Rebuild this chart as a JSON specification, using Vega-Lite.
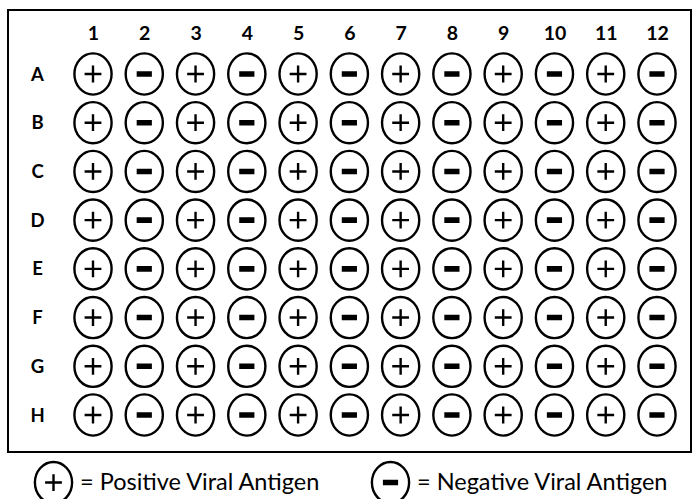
{
  "$schema": "https://vega.github.io/schema/vega-lite/v6.json",
  "width": 683,
  "height": 442,
  "autosize": {"type": "none"},
  "padding": {"left": 8, "top": 10, "right": 5, "bottom": 47},
  "background": "white",
  "config": {
    "view": {"stroke": "black", "strokeWidth": 2},
    "font": "Lato"
  },
  "data": {
    "values": [
      {"row":"A","col":1,"antigen":"Positive Viral Antigen"},{"row":"A","col":2,"antigen":"Negative Viral Antigen"},{"row":"A","col":3,"antigen":"Positive Viral Antigen"},{"row":"A","col":4,"antigen":"Negative Viral Antigen"},{"row":"A","col":5,"antigen":"Positive Viral Antigen"},{"row":"A","col":6,"antigen":"Negative Viral Antigen"},{"row":"A","col":7,"antigen":"Positive Viral Antigen"},{"row":"A","col":8,"antigen":"Negative Viral Antigen"},{"row":"A","col":9,"antigen":"Positive Viral Antigen"},{"row":"A","col":10,"antigen":"Negative Viral Antigen"},{"row":"A","col":11,"antigen":"Positive Viral Antigen"},{"row":"A","col":12,"antigen":"Negative Viral Antigen"},
      {"row":"B","col":1,"antigen":"Positive Viral Antigen"},{"row":"B","col":2,"antigen":"Negative Viral Antigen"},{"row":"B","col":3,"antigen":"Positive Viral Antigen"},{"row":"B","col":4,"antigen":"Negative Viral Antigen"},{"row":"B","col":5,"antigen":"Positive Viral Antigen"},{"row":"B","col":6,"antigen":"Negative Viral Antigen"},{"row":"B","col":7,"antigen":"Positive Viral Antigen"},{"row":"B","col":8,"antigen":"Negative Viral Antigen"},{"row":"B","col":9,"antigen":"Positive Viral Antigen"},{"row":"B","col":10,"antigen":"Negative Viral Antigen"},{"row":"B","col":11,"antigen":"Positive Viral Antigen"},{"row":"B","col":12,"antigen":"Negative Viral Antigen"},
      {"row":"C","col":1,"antigen":"Positive Viral Antigen"},{"row":"C","col":2,"antigen":"Negative Viral Antigen"},{"row":"C","col":3,"antigen":"Positive Viral Antigen"},{"row":"C","col":4,"antigen":"Negative Viral Antigen"},{"row":"C","col":5,"antigen":"Positive Viral Antigen"},{"row":"C","col":6,"antigen":"Negative Viral Antigen"},{"row":"C","col":7,"antigen":"Positive Viral Antigen"},{"row":"C","col":8,"antigen":"Negative Viral Antigen"},{"row":"C","col":9,"antigen":"Positive Viral Antigen"},{"row":"C","col":10,"antigen":"Negative Viral Antigen"},{"row":"C","col":11,"antigen":"Positive Viral Antigen"},{"row":"C","col":12,"antigen":"Negative Viral Antigen"},
      {"row":"D","col":1,"antigen":"Positive Viral Antigen"},{"row":"D","col":2,"antigen":"Negative Viral Antigen"},{"row":"D","col":3,"antigen":"Positive Viral Antigen"},{"row":"D","col":4,"antigen":"Negative Viral Antigen"},{"row":"D","col":5,"antigen":"Positive Viral Antigen"},{"row":"D","col":6,"antigen":"Negative Viral Antigen"},{"row":"D","col":7,"antigen":"Positive Viral Antigen"},{"row":"D","col":8,"antigen":"Negative Viral Antigen"},{"row":"D","col":9,"antigen":"Positive Viral Antigen"},{"row":"D","col":10,"antigen":"Negative Viral Antigen"},{"row":"D","col":11,"antigen":"Positive Viral Antigen"},{"row":"D","col":12,"antigen":"Negative Viral Antigen"},
      {"row":"E","col":1,"antigen":"Positive Viral Antigen"},{"row":"E","col":2,"antigen":"Negative Viral Antigen"},{"row":"E","col":3,"antigen":"Positive Viral Antigen"},{"row":"E","col":4,"antigen":"Negative Viral Antigen"},{"row":"E","col":5,"antigen":"Positive Viral Antigen"},{"row":"E","col":6,"antigen":"Negative Viral Antigen"},{"row":"E","col":7,"antigen":"Positive Viral Antigen"},{"row":"E","col":8,"antigen":"Negative Viral Antigen"},{"row":"E","col":9,"antigen":"Positive Viral Antigen"},{"row":"E","col":10,"antigen":"Negative Viral Antigen"},{"row":"E","col":11,"antigen":"Positive Viral Antigen"},{"row":"E","col":12,"antigen":"Negative Viral Antigen"},
      {"row":"F","col":1,"antigen":"Positive Viral Antigen"},{"row":"F","col":2,"antigen":"Negative Viral Antigen"},{"row":"F","col":3,"antigen":"Positive Viral Antigen"},{"row":"F","col":4,"antigen":"Negative Viral Antigen"},{"row":"F","col":5,"antigen":"Positive Viral Antigen"},{"row":"F","col":6,"antigen":"Negative Viral Antigen"},{"row":"F","col":7,"antigen":"Positive Viral Antigen"},{"row":"F","col":8,"antigen":"Negative Viral Antigen"},{"row":"F","col":9,"antigen":"Positive Viral Antigen"},{"row":"F","col":10,"antigen":"Negative Viral Antigen"},{"row":"F","col":11,"antigen":"Positive Viral Antigen"},{"row":"F","col":12,"antigen":"Negative Viral Antigen"},
      {"row":"G","col":1,"antigen":"Positive Viral Antigen"},{"row":"G","col":2,"antigen":"Negative Viral Antigen"},{"row":"G","col":3,"antigen":"Positive Viral Antigen"},{"row":"G","col":4,"antigen":"Negative Viral Antigen"},{"row":"G","col":5,"antigen":"Positive Viral Antigen"},{"row":"G","col":6,"antigen":"Negative Viral Antigen"},{"row":"G","col":7,"antigen":"Positive Viral Antigen"},{"row":"G","col":8,"antigen":"Negative Viral Antigen"},{"row":"G","col":9,"antigen":"Positive Viral Antigen"},{"row":"G","col":10,"antigen":"Negative Viral Antigen"},{"row":"G","col":11,"antigen":"Positive Viral Antigen"},{"row":"G","col":12,"antigen":"Negative Viral Antigen"},
      {"row":"H","col":1,"antigen":"Positive Viral Antigen"},{"row":"H","col":2,"antigen":"Negative Viral Antigen"},{"row":"H","col":3,"antigen":"Positive Viral Antigen"},{"row":"H","col":4,"antigen":"Negative Viral Antigen"},{"row":"H","col":5,"antigen":"Positive Viral Antigen"},{"row":"H","col":6,"antigen":"Negative Viral Antigen"},{"row":"H","col":7,"antigen":"Positive Viral Antigen"},{"row":"H","col":8,"antigen":"Negative Viral Antigen"},{"row":"H","col":9,"antigen":"Positive Viral Antigen"},{"row":"H","col":10,"antigen":"Negative Viral Antigen"},{"row":"H","col":11,"antigen":"Positive Viral Antigen"},{"row":"H","col":12,"antigen":"Negative Viral Antigen"}
    ]
  },
  "mark": {"type": "point", "filled": false, "color": "black", "opacity": 1, "strokeWidth": 2.4, "size": 1600},
  "encoding": {
    "x": {
      "field": "col", "type": "ordinal",
      "scale": {"type": "point", "padding": 0, "range": [85, 649]},
      "axis": {
        "orient": "top", "title": null, "domain": false, "ticks": false, "grid": false,
        "offset": -23, "labelPadding": 0, "labelBaseline": "middle", "labelAngle": 0,
        "labelFont": "Lato", "labelFontWeight": "bold", "labelFontSize": 19.5, "labelColor": "black"
      }
    },
    "y": {
      "field": "row", "type": "ordinal",
      "scale": {"type": "point", "padding": 0, "range": [64, 405]},
      "axis": {
        "orient": "left", "title": null, "domain": false, "ticks": false, "grid": false,
        "offset": -29, "labelPadding": 0, "labelAlign": "center", "labelBaseline": "middle",
        "labelFont": "Lato", "labelFontWeight": "bold", "labelFontSize": 18.5, "labelColor": "black"
      }
    },
    "shape": {
      "field": "antigen", "type": "nominal",
      "scale": {
        "domain": ["Positive Viral Antigen", "Negative Viral Antigen"],
        "range": [
          "M0,-1.03A0.93,1.03,0,1,1,0,1.03A0.93,1.03,0,1,1,0,-1.03ZM-0.42,0L0.42,0M0,-0.42L0,0.42",
          "M0,-1.03A0.93,1.03,0,1,1,0,1.03A0.93,1.03,0,1,1,0,-1.03ZM-0.38,-0.08L0.38,-0.08M-0.38,0L0.38,0M-0.38,0.08L0.38,0.08"
        ]
      },
      "legend": {
        "title": null, "orient": "none", "legendX": 24, "legendY": 451,
        "direction": "horizontal", "padding": 0,
        "symbolSize": 1600, "symbolStrokeWidth": 2.4, "symbolStrokeColor": "black", "symbolFillColor": "transparent", "symbolOpacity": 1,
        "labelExpr": "'= ' + datum.label", "labelFont": "Lato", "labelFontSize": 23.5, "labelColor": "black",
        "labelOffset": 5, "columnPadding": 46, "labelLimit": 400
      }
    }
  }
}
